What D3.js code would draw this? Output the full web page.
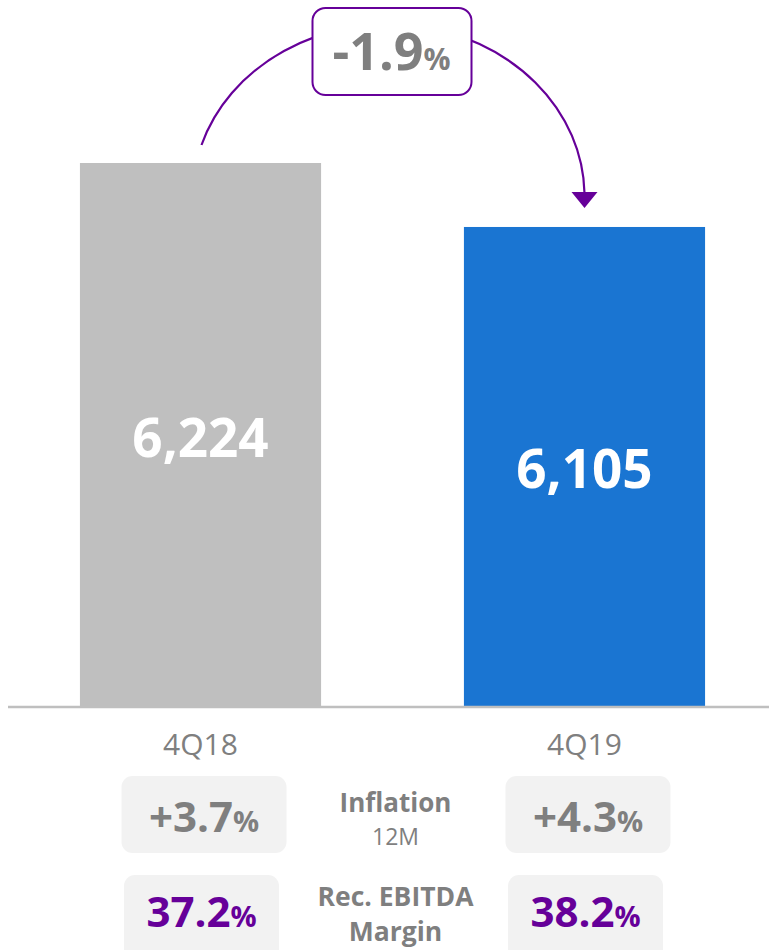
<!DOCTYPE html>
<html>
<head>
<meta charset="utf-8">
<script src="https://cdn.jsdelivr.net/npm/d3@7"></script>
<style>
  body { margin: 0; background: #fff; }
  svg { display: block; font-family: "Open Sans", "Noto Sans", sans-serif; }
</style>
</head>
<body>
<div id="chart"></div>
<script>
// values
const categories = ["4Q18", "4Q19"];
const revenue = [6224, 6105];
const barColors = ["#bfbfbf", "#1a75d2"];
const change = -1.9;
const inflation = [3.7, 4.3];
const ebitdaMargin = [37.2, 38.2];
const rowLabels = [["Inflation", "12M"], ["Rec. EBITDA", "Margin"]];

const svgWidth = 769;
const svgHeight = 950;
const baseY = 707;
const grey = "#7f7f7f";
const purple = "#660099";

const svg = d3.select("#chart")
    .append("svg")
    .attr("width", svgWidth)
    .attr("height", svgHeight);

// scales
const x = d3.scaleBand()
    .domain(categories)
    .range([16, 769])
    .paddingInner(0.372)
    .paddingOuter(0.1665);

// the axis on the slide is cut, it does not start at zero
const y = d3.scaleLinear()
    .domain([5214, 6224])
    .range([baseY - 1, 163]);

const data = categories.map((c, i) => ({ cat: c, value: revenue[i], color: barColors[i] }));

// plain hyphen instead of d3's unicode minus
const pct = v => d3.format(".1f")(v).replace("\u2212", "-");

// bars
svg.selectAll("rect.bar")
    .data(data)
    .enter()
    .append("rect")
    .attr("class", "bar")
    .attr("x", d => x(d.cat))
    .attr("y", d => y(d.value))
    .attr("width", x.bandwidth())
    .attr("height", d => y.range()[0] - y(d.value))
    .attr("fill", d => d.color);

// value labels in the bars
const fmt = d3.format(",");
svg.selectAll("text.value")
    .data(data)
    .enter()
    .append("text")
    .attr("class", "value")
    .attr("x", d => x(d.cat) + x.bandwidth() / 2)
    .attr("y", d => (y(d.value) + y.range()[0]) / 2 + 22)
    .attr("text-anchor", "middle")
    .attr("fill", "#fff")
    .attr("font-weight", 700)
    .attr("font-size", 53)
    .text(d => fmt(d.value));

// baseline
svg.append("line")
    .attr("x1", 8).attr("x2", svgWidth)
    .attr("y1", baseY).attr("y2", baseY)
    .attr("stroke", "#bfbfbf")
    .attr("stroke-width", 2.5);

// category labels
const xAxis = d3.axisBottom(x).tickSize(0).tickPadding(0);
const axisG = svg.append("g")
    .attr("transform", `translate(0, ${baseY})`)
    .call(xAxis);
axisG.select(".domain").remove();
axisG.selectAll("text")
    .attr("dy", null)
    .attr("y", 48)
    .attr("fill", grey)
    .attr("font-size", 30)
    .attr("font-family", "Open Sans, sans-serif");

// change arc between the bars
const cx0 = x(categories[0]) + x.bandwidth() / 2;
const cx1 = x(categories[1]) + x.bandwidth() / 2;
const startY = y(revenue[0]) - 18;
const endY = y(revenue[1]) - 34;

svg.append("path")
    .attr("d", `M${cx0 + 1},${startY} A196,172 0 0 1 ${cx1},${endY}`)
    .attr("fill", "none")
    .attr("stroke", purple)
    .attr("stroke-width", 2.2);

svg.append("path")
    .attr("d", `M${cx1 - 13},${endY - 1} L${cx1 + 13},${endY - 1} L${cx1},${endY + 15} Z`)
    .attr("fill", purple);

const midX = (cx0 + cx1) / 2;
svg.append("rect")
    .attr("x", midX - 80)
    .attr("y", 8)
    .attr("width", 159)
    .attr("height", 87)
    .attr("rx", 13)
    .attr("fill", "#fff")
    .attr("stroke", purple)
    .attr("stroke-width", 2);

const changeText = svg.append("text")
    .attr("x", midX - 1)
    .attr("y", 70)
    .attr("text-anchor", "middle")
    .attr("fill", grey)
    .attr("font-weight", 700);
changeText.append("tspan").attr("font-size", 52).text(pct(change));
changeText.append("tspan").attr("font-size", 30).text("%");

// info rows below the chart
const rows = [
    { values: inflation, sign: true, color: grey, boxW: 165, boxY: 776, boxH: 77, shift: 3.5, textY: 832 },
    { values: ebitdaMargin, sign: false, color: purple, boxW: 155, boxY: 875, boxH: 90, shift: 1, textY: 927 }
];

rows.forEach((row, r) => {
    categories.forEach((c, i) => {
        const cx = x(c) + x.bandwidth() / 2 + row.shift;
        svg.append("rect")
            .attr("x", cx - row.boxW / 2)
            .attr("y", row.boxY)
            .attr("width", row.boxW)
            .attr("height", row.boxH)
            .attr("rx", 11)
            .attr("fill", "#f2f2f2");
        const t = svg.append("text")
            .attr("x", cx)
            .attr("y", row.textY)
            .attr("text-anchor", "middle")
            .attr("fill", row.color)
            .attr("font-weight", 700);
        t.append("tspan").attr("font-size", 42)
            .text((row.sign && row.values[i] > 0 ? "+" : "") + pct(row.values[i]));
        t.append("tspan").attr("font-size", 29).text("%");
    });
});

// middle labels
const labelX = midX + 3;
svg.append("text")
    .attr("x", labelX).attr("y", 812)
    .attr("text-anchor", "middle")
    .attr("fill", grey).attr("font-weight", 700).attr("font-size", 26)
    .text(rowLabels[0][0]);
svg.append("text")
    .attr("x", labelX).attr("y", 845)
    .attr("text-anchor", "middle")
    .attr("fill", grey).attr("font-size", 23)
    .text(rowLabels[0][1]);
svg.append("text")
    .attr("x", labelX).attr("y", 906)
    .attr("text-anchor", "middle")
    .attr("fill", grey).attr("font-weight", 700).attr("font-size", 26.5)
    .text(rowLabels[1][0]);
svg.append("text")
    .attr("x", labelX).attr("y", 941)
    .attr("text-anchor", "middle")
    .attr("fill", grey).attr("font-weight", 700).attr("font-size", 26.5)
    .text(rowLabels[1][1]);
</script>
</body>
</html>
